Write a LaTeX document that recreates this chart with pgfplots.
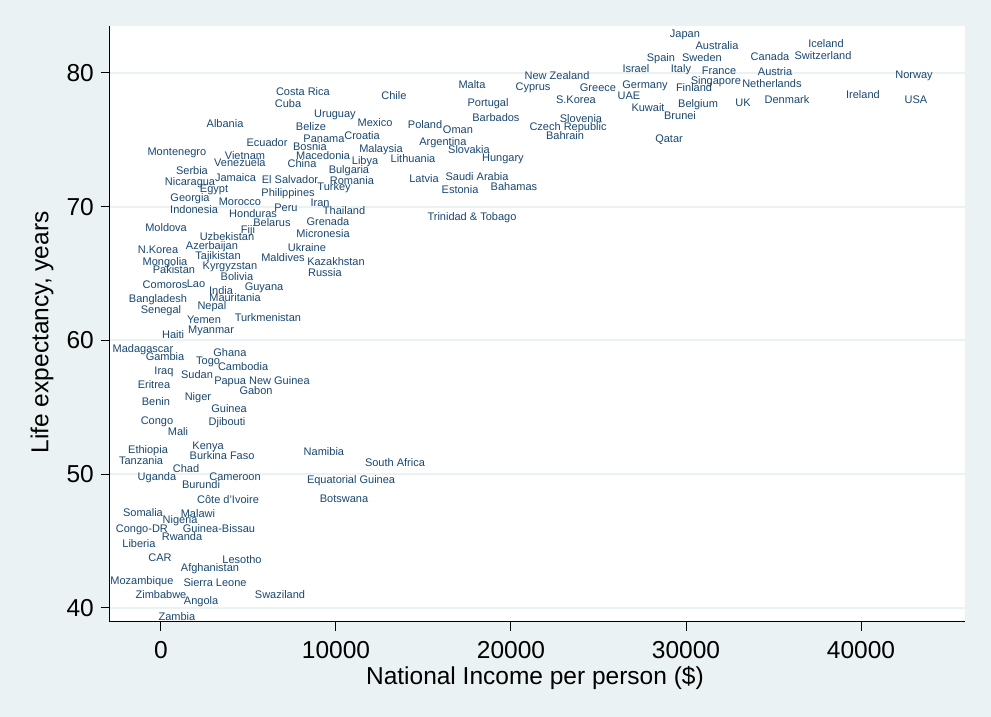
\documentclass[border=0pt]{standalone}
\usepackage{pgfplots}
\pgfplotsset{compat=1.18}
\usepackage{pgfplotstable}
\usepackage{fontspec}
\setmainfont{Liberation Sans}
\definecolor{statabg}{RGB}{234,242,243}
\definecolor{statanavy}{RGB}{26,71,111}

\pgfplotstableread[col sep=comma]{
x,y,name
29940,82.91,Japan
31770,82.01,Australia
28570,81.12,Spain
30910,81.12,Sweden
34800,81.19,Canada
38000,82.16,Iceland
37830,81.27,Switzerland
27140,80.30,Israel
29710,80.30,Italy
31890,80.15,France
35090,80.07,Austria
22630,79.78,New Zealand
21260,78.96,Cyprus
17770,79.10,Malta
24970,78.88,Greece
27660,79.10,Germany
31710,79.40,Singapore
34910,79.18,Netherlands
30460,78.88,Finland
26740,78.28,UAE
23710,77.99,S.Korea
43030,79.85,Norway
40110,78.36,Ireland
43140,77.99,USA
35770,77.99,Denmark
33260,77.76,UK
30690,77.69,Belgium
27830,77.39,Kuwait
29660,76.79,Brunei
29030,75.07,Qatar
24000,76.57,Slovenia
23260,75.97,Czech Republic
23090,75.30,Bahrain
19140,76.64,Barbados
18690,77.76,Portugal
13310,78.28,Chile
15090,76.12,Poland
16970,75.75,Oman
16110,74.85,Argentina
17600,74.25,Slovakia
19540,73.66,Hungary
14400,73.58,Lithuania
15030,72.09,Latvia
18060,72.24,Saudi Arabia
17090,71.27,Estonia
20170,71.49,Bahamas
17770,69.25,Trinidad \& Tobago
8110,78.58,Costa Rica
7260,77.69,Cuba
9940,76.94,Uruguay
12230,76.27,Mexico
8570,75.97,Belize
9310,75.07,Panama
11490,75.30,Croatia
6060,74.78,Ecuador
8510,74.48,Bosnia
12570,74.33,Malaysia
9260,73.81,Macedonia
8060,73.21,China
11660,73.43,Libya
10740,72.76,Bulgaria
7370,72.01,El Salvador
10910,71.94,Romania
9890,71.49,Turkey
7260,71.04,Philippines
9090,70.30,Iran
7140,69.93,Peru
10460,69.70,Thailand
9540,68.88,Grenada
9260,67.99,Micronesia
5260,69.48,Honduras
6340,68.81,Belarus
4970,68.28,Fiji
4510,70.41,Morocco
4260,72.20,Jamaica
4800,73.81,Vietnam
4510,73.28,Venezuela
3660,76.19,Albania
910,74.10,Montenegro
1770,72.69,Serbia
1660,71.87,Nicaragua
3030,71.34,Egypt
1660,70.67,Georgia
1890,69.78,Indonesia
290,68.43,Moldova
3770,67.76,Uzbekistan
-170,66.79,N.Korea
2910,67.09,Azerbaijan
3260,66.34,Tajikistan
230,65.90,Mongolia
740,65.30,Pakistan
3940,65.60,Kyrgyzstan
6970,66.19,Maldives
8340,66.94,Ukraine
10000,65.90,Kazakhstan
9370,65.07,Russia
4340,64.78,Bolivia
230,64.18,Comoros
2000,64.25,Lao
5890,64.03,Guyana
3430,63.73,India
4230,63.21,Mauritania
-170,63.13,Bangladesh
2910,62.61,Nepal
0,62.31,Senegal
6110,61.72,Turkmenistan
2460,61.57,Yemen
2860,60.82,Myanmar
690,60.45,Haiti
-1030,59.40,Madagascar
230,58.81,Gambia
3940,59.10,Ghana
2690,58.51,Togo
4690,58.06,Cambodia
170,57.76,Iraq
2060,57.46,Sudan
5770,57.01,Papua New Guinea
5430,56.27,Gabon
-400,56.72,Eritrea
2110,55.82,Niger
-290,55.45,Benin
3890,54.93,Guinea
-230,54.03,Congo
3770,53.96,Djibouti
970,53.21,Mali
2690,52.16,Kenya
-740,51.87,Ethiopia
3490,51.42,Burkina Faso
-1140,51.04,Tanzania
1430,50.45,Chad
-230,49.85,Uganda
4230,49.85,Cameroon
2290,49.25,Burundi
3830,48.13,Côte d'Ivoire
9310,51.72,Namibia
13370,50.90,South Africa
10860,49.63,Equatorial Guinea
10460,48.21,Botswana
-1030,47.16,Somalia
2110,47.09,Malawi
1090,46.57,Nigeria
-1090,45.90,Congo-DR
3310,45.90,Guinea-Bissau
1200,45.30,Rwanda
-1260,44.78,Liberia
-60,43.73,CAR
4630,43.58,Lesotho
2800,42.99,Afghanistan
-1090,42.01,Mozambique
3090,41.87,Sierra Leone
0,40.97,Zimbabwe
2290,40.52,Angola
6800,40.97,Swaziland
910,39.33,Zambia
}\countries

\begin{document}
\begin{tikzpicture}[x=1pt,y=1pt]
\fill[statabg] (0,0) rectangle (991,717);
\begin{axis}[
  at={(110pt,95pt)}, anchor=south west,
  scale only axis, width=855pt, height=596pt,
  xmin=-2914, xmax=45943, ymin=38.95, ymax=83.51,
  axis lines=left,
  axis line style={-, black, line width=1pt},
  axis background/.style={fill=white},
  xtick={0,10000,20000,30000,40000},
  ytick={40,50,60,70,80},
  scaled x ticks=false,
  xticklabel style={/pgf/number format/1000 sep={}},
  /pgf/number format/assume math mode=true,
  tick align=outside, major tick length=9pt,
  tick style={black, line width=1pt},
  ymajorgrids, grid style={statabg, line width=2pt},
  tick label style={font=\fontsize{24.5}{28}\selectfont, inner sep=0pt},
  yticklabel shift=7pt,
  xticklabel shift=10pt,
  xlabel={National Income per person (\$)},
  ylabel={Life expectancy, years},
  every axis x label/.style={at={(axis description cs:0.497,-0.094)}, anchor=center,
    font=\fontsize{24.5}{28}\selectfont},
  every axis y label/.style={at={(axis description cs:-0.0795,0.486)}, anchor=center, rotate=90,
    font=\fontsize{24.5}{28}\selectfont},
  clip=false,
]
\addplot[only marks, mark=none, nodes near coords, point meta=explicit symbolic,
  every node near coord/.append style={anchor=base, yshift=-3.9pt,
    font=\fontsize{11}{12}\selectfont, text=statanavy, inner sep=0pt}]
  table[x=x, y=y, meta=name] {\countries};
\end{axis}
\pgfresetboundingbox
\path (0,0) rectangle (991,717);
\end{tikzpicture}
\end{document}
